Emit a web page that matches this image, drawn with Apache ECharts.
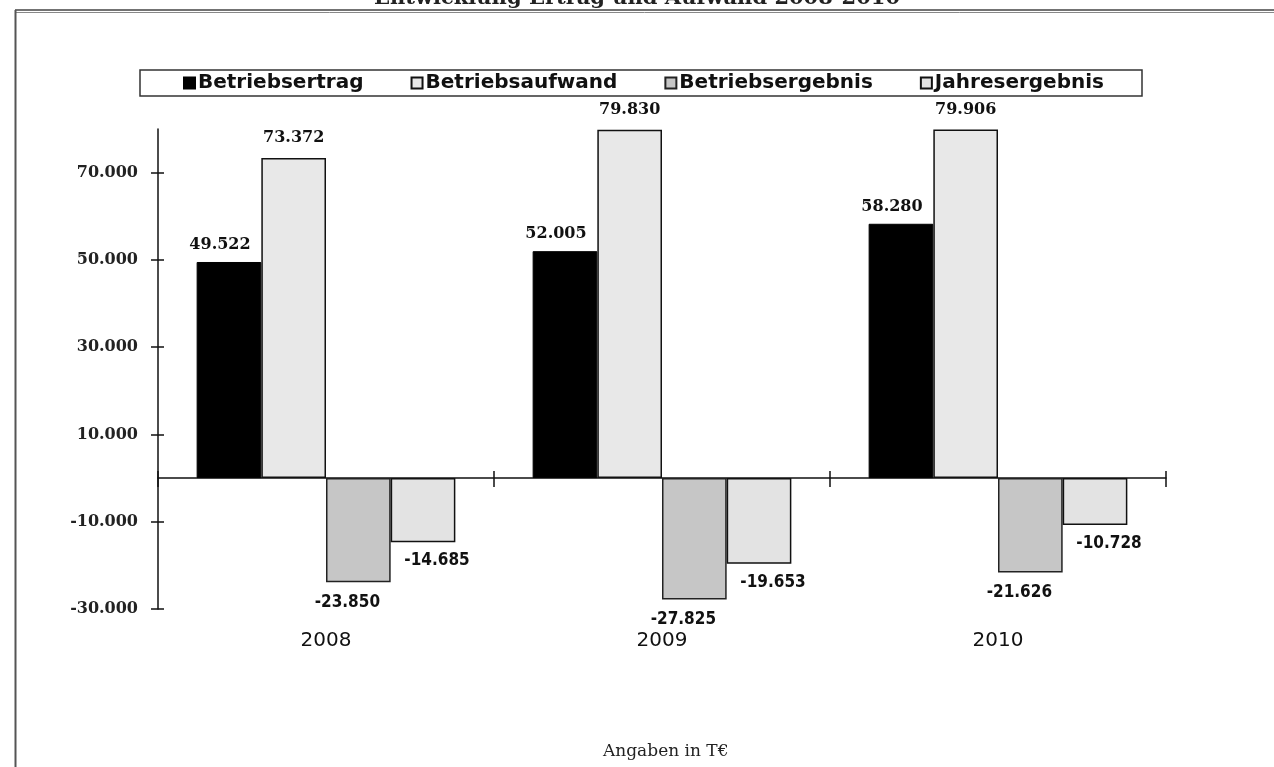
<!DOCTYPE html>
<html>
<head>
<meta charset="utf-8">
<script src="https://cdn.jsdelivr.net/npm/echarts@6/dist/echarts.min.js"></script>
<style>
  html, body { margin: 0; padding: 0; background: #fff; }
  #chart { width: 1274px; height: 767px; }
</style>
</head>
<body>
<div id="chart"></div>
<script>
// Jahre (Kategorien)
const years = ['2008', '2009', '2010'];

// Werte in T€
const betriebsertrag    = [49522, 52005, 58280];
const betriebsaufwand   = [73372, 79830, 79906];
const betriebsergebnis  = [-23850, -27825, -21626];
const jahresergebnis    = [-14685, -19653, -10728];

// Beschriftete Achsenwerte
const yTickValues = [-30000, -10000, 10000, 30000, 50000, 70000];
const yMin = -30000;
const yMax = 80000;

const chartTitle = 'Entwicklung Ertrag und Aufwand 2008-2010';
const unitNote = 'Angaben in T€';

function fmtDE(v) {
  const s = String(Math.abs(Math.round(v))).replace(/\B(?=(\d{3})+(?!\d))/g, '.');
  return (v < 0 ? '-' : '') + s;
}

const chart = echarts.init(document.getElementById('chart'), null, { renderer: 'canvas' });

const posLabel = {
  show: true,
  position: 'top',
  distance: 9,
  fontFamily: '"DejaVu Serif", serif',
  fontWeight: 'bold',
  fontSize: 16,
  color: '#111',
  formatter: p => fmtDE(p.value)
};
const negLabel = {
  show: true,
  position: 'bottom',
  fontFamily: '"Liberation Sans Narrow", "DejaVu Sans Condensed", "Liberation Sans", Arial, sans-serif',
  fontWeight: 'bold',
  fontSize: 17,
  color: '#111',
  formatter: p => fmtDE(p.value)
};

const option = {
  backgroundColor: '#ffffff',
  animation: false,
  title: [
    {
      text: chartTitle,
      left: 'center',
      top: -17,
      textStyle: { fontFamily: '"DejaVu Serif", serif', fontWeight: 'bold', fontSize: 21, color: '#222' }
    },
    {
      text: unitNote,
      left: 598,
      top: 738,
      textStyle: { fontFamily: '"DejaVu Serif", serif', fontWeight: 'normal', fontSize: 17, color: '#222' }
    }
  ],
  legend: {
    top: 70,
    left: 140,
    padding: [3, 38, 3, 43],
    itemGap: 47,
    itemWidth: 11,
    itemHeight: 11,
    icon: 'rect',
    borderColor: '#333',
    borderWidth: 1.5,
    textStyle: { fontFamily: '"DejaVu Sans", sans-serif', fontWeight: 'bold', fontSize: 20, color: '#111', padding: [0, 0, 0, -2] },
    data: ['Betriebsertrag', 'Betriebsaufwand', 'Betriebsergebnis', 'Jahresergebnis']
  },
  grid: { left: 158, right: 108, top: 129, bottom: 158, containLabel: false },
  xAxis: [
    {
      type: 'category',
      data: years,
      position: 'bottom',
      axisLine: { show: true, onZero: true, lineStyle: { color: '#111', width: 1.5 } },
      axisTick: { show: true, length: 9, lineStyle: { color: '#111', width: 1.5 } },
      axisLabel: { show: false },
      splitLine: { show: false }
    },
    {
      type: 'category',
      data: years,
      position: 'bottom',
      axisLine: { show: false, onZero: false },
      axisTick: { show: false },
      axisLabel: {
        show: true, margin: 22,
        fontFamily: '"DejaVu Sans", sans-serif', fontSize: 20, color: '#111'
      },
      splitLine: { show: false }
    },
    {
      type: 'category',
      data: years,
      position: 'bottom',
      axisLine: { show: false, onZero: true },
      axisTick: { show: true, inside: true, length: 7, lineStyle: { color: '#111', width: 1.5 } },
      axisLabel: { show: false },
      splitLine: { show: false }
    }
  ],
  yAxis: [
    {
      type: 'value',
      min: yMin,
      max: yMax,
      position: 'left',
      axisLine: { show: true, onZero: false, lineStyle: { color: '#111', width: 1.5 } },
      axisTick: { show: true, length: 7, customValues: yTickValues, lineStyle: { color: '#111', width: 1.5 } },
      axisLabel: {
        show: true, margin: 20, customValues: yTickValues,
        fontFamily: '"DejaVu Serif", serif', fontWeight: 'bold', fontSize: 16, color: '#222',
        formatter: v => fmtDE(v)
      },
      splitLine: { show: false }
    },
    {
      type: 'value',
      min: yMin,
      max: yMax,
      position: 'left',
      axisLine: { show: false, onZero: false },
      axisTick: { show: true, inside: true, length: 6, customValues: yTickValues, lineStyle: { color: '#111', width: 1.5 } },
      axisLabel: { show: false },
      splitLine: { show: false }
    }
  ],
  series: [
    {
      name: 'Betriebsertrag',
      type: 'bar',
      data: betriebsertrag,
      barGap: '0%',
      barCategoryGap: '23%',
      itemStyle: { color: '#000000', borderColor: '#000', borderWidth: 1 },
      label: Object.assign({}, posLabel, { offset: [-9, 0] })
    },
    {
      name: 'Betriebsaufwand',
      type: 'bar',
      data: betriebsaufwand,
      itemStyle: { color: '#e8e8e8', borderColor: '#111', borderWidth: 1.5 },
      label: Object.assign({}, posLabel, { distance: 12 })
    },
    {
      name: 'Betriebsergebnis',
      type: 'bar',
      data: betriebsergebnis,
      itemStyle: { color: '#c6c6c6', borderColor: '#222', borderWidth: 1.5 },
      label: Object.assign({}, negLabel, { distance: 12, offset: [-11, 0] })
    },
    {
      name: 'Jahresergebnis',
      type: 'bar',
      data: jahresergebnis,
      itemStyle: { color: '#e3e3e3', borderColor: '#111', borderWidth: 1.5 },
      label: Object.assign({}, negLabel, { distance: 10, offset: [14, 0] })
    }
  ],
  graphic: [
    // Rahmenlinien
    { type: 'line', shape: { x1: 15, y1: 10, x2: 1274, y2: 10 }, style: { stroke: '#444', lineWidth: 1.5 } },
    { type: 'line', shape: { x1: 15, y1: 12.5, x2: 1274, y2: 12.5 }, style: { stroke: '#888', lineWidth: 1 } },
    { type: 'line', shape: { x1: 15.5, y1: 10, x2: 15.5, y2: 767 }, style: { stroke: '#555', lineWidth: 2 } }
  ]
};

chart.setOption(option);
</script>
</body>
</html>
